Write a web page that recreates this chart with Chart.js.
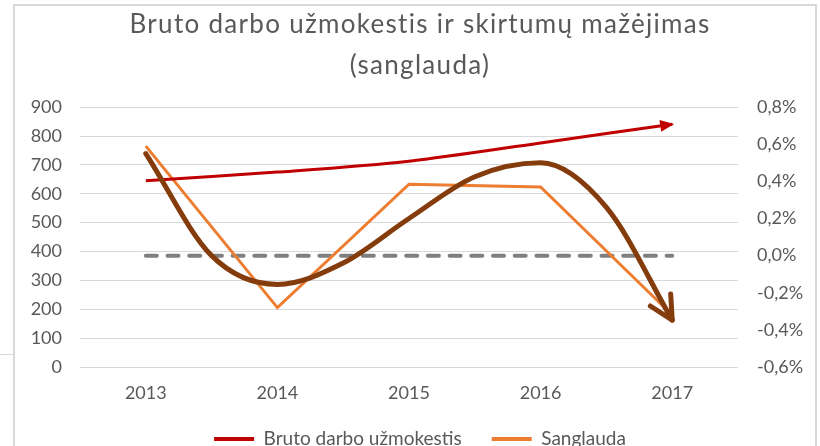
<!DOCTYPE html>
<html>
<head>
<meta charset="utf-8">
<script src="https://cdn.jsdelivr.net/npm/chart.js@4/dist/chart.umd.min.js"></script>
<style>
  html, body { margin: 0; padding: 0; background: #fff; }
  #wrap { position: relative; width: 820px; height: 446px; overflow: hidden; }
  #frame { position: absolute; left: 13px; top: 4px; width: 800px; height: 520px; border: 2px solid #d9d9d9; }
  #tick { position: absolute; left: 0; top: 354px; width: 14px; height: 1px; background: #d9d9d9; }
  canvas { position: absolute; left: 0; top: 0; }
</style>
</head>
<body>
<div id="wrap">
  <div id="frame"></div>
  <div id="tick"></div>
  <canvas id="chart" width="820" height="446"></canvas>
</div>
<script>
// data
const years = ['2013', '2014', '2015', '2016', '2017'];
const brutoDu = [645, 675, 713, 776, 841];              // left axis
const sanglauda = [0.59, -0.28, 0.385, 0.37, -0.32];    // right axis, %
const zeroLine = [0, 0, 0, 0, 0];                      // %

// hand drawn trend arrow, read along its path every half year (year, %)
const trendX = [2013, 2013.5, 2014, 2014.5, 2015, 2015.5, 2016, 2016.5, 2017];
const trendY = [0.55, 0.0, -0.155, -0.04, 0.2, 0.425, 0.5, 0.26, -0.347];

const FONT = 'Lato, "Open Sans", sans-serif';
const GREY = '#595959';

// arrow heads at the end of a line
const arrowPlugin = {
  id: 'arrows',
  afterInit(chart) {
    // a bit of letter spacing on the title, as in the original
    const t = chart.titleBlock;
    if (!t) return;
    const orig = t.draw;
    t.draw = function () {
      const ctx = chart.ctx;
      ctx.save();
      ctx.letterSpacing = '1.3px';
      orig.call(this);
      ctx.restore();
    };
  },
  afterDatasetsDraw(chart) {
    const ctx = chart.ctx;
    chart.data.datasets.forEach((ds, i) => {
      if (!ds.arrow) return;
      const pts = chart.getDatasetMeta(i).data;
      const p = pts[pts.length - 1];
      const prev = pts[pts.length - 2];
      let cx = p.cp1x, cy = p.cp1y;
      if (cx === undefined || (Math.abs(cx - p.x) < 0.5 && Math.abs(cy - p.y) < 0.5)) { cx = prev.x; cy = prev.y; }
      const ang = Math.atan2(p.y - cy, p.x - cx);
      ctx.save();
      ctx.translate(p.x, p.y);
      ctx.rotate(ang);
      if (ds.arrow === 'fill') {
        ctx.fillStyle = ds.borderColor;
        ctx.beginPath();
        ctx.moveTo(2, 0);
        ctx.lineTo(-12, -6);
        ctx.lineTo(-12, 6);
        ctx.closePath();
        ctx.fill();
      } else {
        ctx.strokeStyle = ds.borderColor;
        ctx.lineWidth = ds.borderWidth;
        ctx.lineCap = 'round';
        ctx.lineJoin = 'round';
        const a = 27 * Math.PI / 180, L = 26;
        ctx.beginPath();
        ctx.moveTo(-L * Math.cos(a), -L * Math.sin(a));
        ctx.lineTo(0, 0);
        ctx.lineTo(-L * Math.cos(a), L * Math.sin(a));
        ctx.stroke();
      }
      ctx.restore();
    });
  }
};

document.addEventListener('DOMContentLoaded', () => {
  const pct = v => {
    if (Math.abs(v) < 1e-9) v = 0;
    return v.toFixed(1).replace('.', ',') + '%';
  };

  new Chart(document.getElementById('chart'), {
    type: 'line',
    data: {
      labels: years,
      datasets: [
        {
          label: 'Bruto darbo užmokestis',
          data: brutoDu,
          yAxisID: 'y',
          borderColor: '#C00000',
          backgroundColor: '#C00000',
          borderWidth: 3,
          tension: 0.3,
          pointRadius: 0,
          arrow: 'fill',
          order: 1
        },
        {
          label: 'Sanglauda',
          data: sanglauda,
          yAxisID: 'y1',
          borderColor: '#ED7D31',
          backgroundColor: '#ED7D31',
          borderWidth: 3,
          tension: 0,
          pointRadius: 0,
          order: 2
        },
        {
          label: 'nulis',
          data: zeroLine,
          yAxisID: 'y1',
          borderColor: '#7F7F7F',
          borderWidth: 4,
          borderDash: [11, 10.7],
          borderCapStyle: 'round',
          pointRadius: 0,
          order: 3
        },
        {
          label: 'tendencija',
          data: trendX.map((x, i) => ({ x, y: trendY[i] })),
          xAxisID: 'xt',
          yAxisID: 'y1',
          borderColor: '#843C0C',
          borderWidth: 5,
          cubicInterpolationMode: 'monotone',
          borderCapStyle: 'round',
          borderJoinStyle: 'round',
          pointRadius: 0,
          arrow: 'open',
          order: 0
        }
      ]
    },
    options: {
      responsive: false,
      animation: false,
      layout: { padding: { top: 0, left: 20, right: 0, bottom: -12.5 } },
      plugins: {
        tooltip: { enabled: false },
        title: {
          display: true,
          text: ['Bruto darbo užmokestis ir skirtumų mažėjimas', '(sanglauda)'],
          color: GREY,
          font: { family: FONT, size: 26, weight: 'normal', lineHeight: 1.58 },
          padding: { top: 4, bottom: 21 }
        },
        legend: {
          position: 'bottom',
          labels: {
            color: GREY,
            font: { family: FONT, size: 19 },
            boxWidth: 40,
            boxHeight: 4,
            padding: 30,
            generateLabels: chart => Chart.defaults.plugins.legend.labels.generateLabels(chart)
              .filter(l => l.datasetIndex < 2)
              .map(l => Object.assign(l, { lineWidth: 0, fillStyle: l.strokeStyle }))
          }
        }
      },
      scales: {
        x: {
          offset: true,
          grid: { display: false, drawTicks: false },
          border: { display: false },
          ticks: { color: GREY, font: { family: FONT, size: 18 }, padding: 15 },
          afterFit: s => { s.height = 32.5; }
        },
        xt: {
          type: 'linear',
          display: false,
          min: 2012.5,
          max: 2017.5
        },
        y: {
          position: 'left',
          min: 0,
          max: 900,
          ticks: { stepSize: 100, color: GREY, font: { family: FONT, size: 18 }, padding: 18 },
          grid: { color: '#d9d9d9', lineWidth: 1, drawTicks: false },
          border: { display: false },
          afterFit: s => { s.width = 60; }
        },
        y1: {
          position: 'right',
          min: -0.6,
          max: 0.8,
          ticks: { stepSize: 0.2, color: GREY, font: { family: FONT, size: 18 }, padding: 19, callback: pct },
          grid: { display: false, drawTicks: false },
          border: { display: false },
          afterFit: s => { s.width = 82; }
        }
      }
    },
    plugins: [arrowPlugin]
  });
});
</script>
</body>
</html>
